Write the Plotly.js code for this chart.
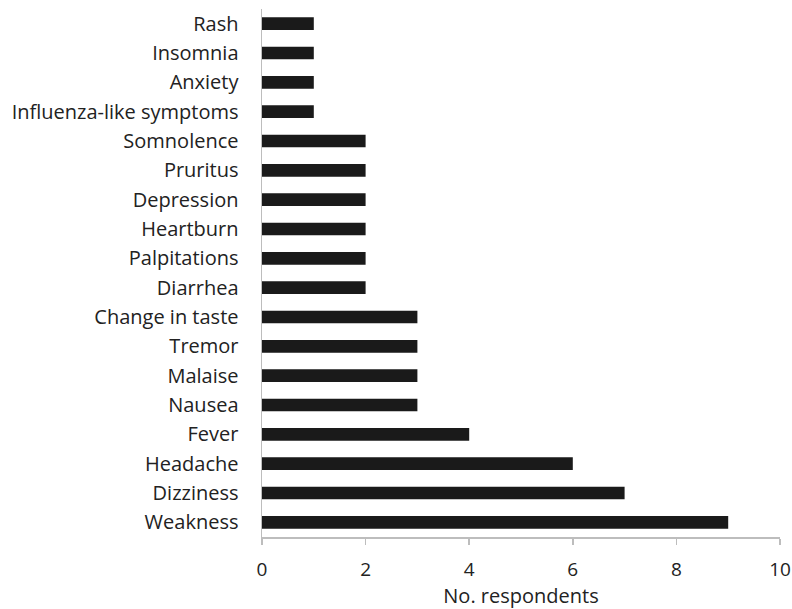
<!DOCTYPE html>
<html><head><meta charset="utf-8">
<script src="https://cdn.plot.ly/plotly-3.0.1.min.js"></script>
<style>html,body{margin:0;padding:0;background:#fff}#chart{width:792px;height:609px}</style>
</head><body><div id="chart"></div>
<script>
const categories = ["Weakness","Dizziness","Headache","Fever","Nausea","Malaise","Tremor","Change in taste","Diarrhea","Palpitations","Heartburn","Depression","Pruritus","Somnolence","Influenza-like symptoms","Anxiety","Insomnia","Rash"];
const respondents = [9,7,6,4,3,3,3,3,2,2,2,2,2,2,1,1,1,1];
const xTickVals = [0,2,4,6,8,10];
const xTickText = ["0","2","4","6","8","10"];

const trace = {
  type: "bar", orientation: "h",
  y: categories, x: respondents,
  marker: {color: "#1a1a1a", line: {color: "#1a1a1a", width: 0}},
  hoverinfo: "none"
};
const layout = {
  width: 792, height: 609,
  margin: {l: 262, r: 12, t: 9, b: 72},
  paper_bgcolor: "#fff", plot_bgcolor: "#fff",
  bargap: 0.57,
  showlegend: false,
  font: {family: "Open Sans, sans-serif", size: 20, color: "#222"},
  xaxis: {
    range: [0, 10], tickvals: xTickVals, ticktext: xTickText,
    showgrid: false, zeroline: false,
    showline: true, linecolor: "#bdbdbd", linewidth: 1.5,
    ticks: "outside", ticklen: 6, tickcolor: "#bdbdbd", tickwidth: 1.5,
    ticklabelstandoff: 9,
    tickfont: {size: 19, color: "#222"},
    automargin: false,
    title: {text: "No. respondents", font: {size: 20, color: "#222"}, standoff: 5}
  },
  yaxis: {
    type: "category", showgrid: false, zeroline: false,
    showline: true, linecolor: "#bdbdbd", linewidth: 1.5,
    ticks: "", ticklabelstandoff: 18,
    tickfont: {size: 20, color: "#222"},
    automargin: false
  }
};
Plotly.newPlot("chart", [trace], layout, {displayModeBar: false, staticPlot: true});
</script></body></html>
